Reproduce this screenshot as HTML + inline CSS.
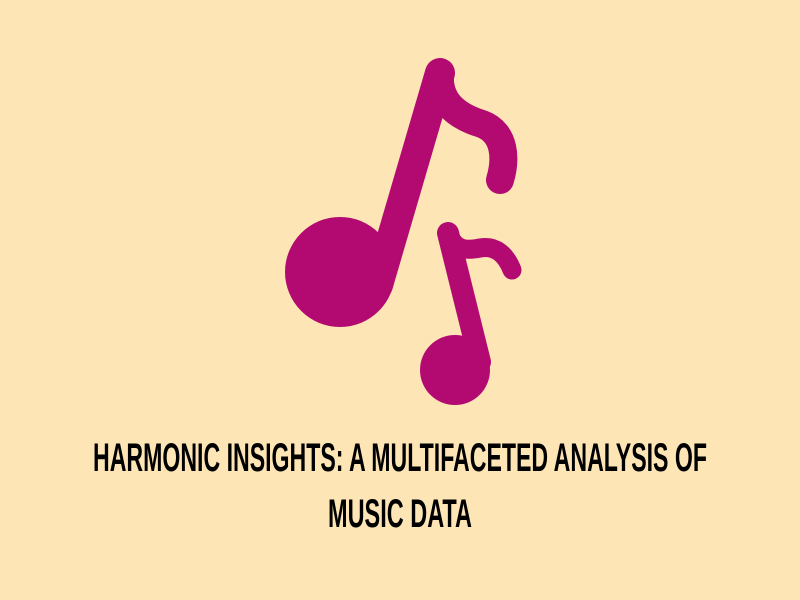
<!DOCTYPE html>
<html><head><meta charset="utf-8"><style>
html,body{margin:0;padding:0;background:#fee5b5;}
svg{display:block}
</style></head><body>
<svg width="800" height="600" viewBox="0 0 800 600">
<rect width="800" height="600" fill="#fee5b5"/>
<g fill="#b30a72" stroke="#b30a72" stroke-linecap="round" stroke-linejoin="round">
  <g>
    <circle cx="340" cy="272" r="55" stroke="none"/>
    <line x1="440" y1="73" x2="378" y2="285" stroke-width="30"/>
    <path d="M440,75 C438,105 462,118 482,124 C506,133 506,160 500,180" fill="none" stroke-width="28"/>
  </g>
  <g>
    <circle cx="455" cy="370" r="35" stroke="none"/>
    <line x1="448" y1="233" x2="480" y2="362" stroke-width="22"/>
    <path d="M448,233 C455,250 465,251 480,248 C496,245 506,255 512,270" fill="none" stroke-width="19"/>
  </g>
</g>
<text x="93" y="471" textLength="614" lengthAdjust="spacingAndGlyphs" font-family="'Liberation Sans', sans-serif" font-weight="bold" font-size="40" fill="#000">HARMONIC INSIGHTS: A MULTIFACETED ANALYSIS OF</text>
<text x="328" y="527" textLength="144" lengthAdjust="spacingAndGlyphs" font-family="'Liberation Sans', sans-serif" font-weight="bold" font-size="40" fill="#000">MUSIC DATA</text>
</svg>
</body></html>
